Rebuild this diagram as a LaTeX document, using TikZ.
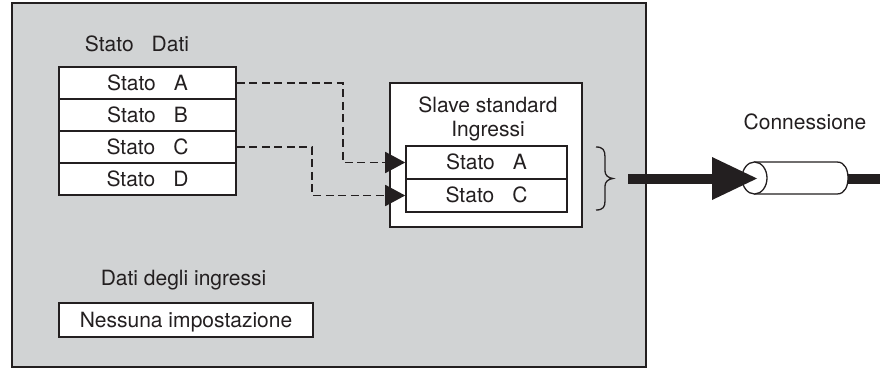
\documentclass[tikz,border=0pt]{standalone}
\usepackage{fontspec}
\setmainfont{TeX Gyre Heros}
\usetikzlibrary{arrows.meta}
\definecolor{panel}{RGB}{209,211,212}
\definecolor{ink}{RGB}{35,31,32}
\begin{document}
\begin{tikzpicture}[x=1pt,y=-1pt,
  every node/.style={font=\fontsize{21}{24}\selectfont, text=ink, inner sep=0pt},
  lbl/.style={anchor=base},
  cell/.style={draw=ink, fill=white, line width=1.6pt, minimum width=177pt, minimum height=32pt, text height=14.7pt, text depth=0pt},
  icell/.style={cell, minimum width=161pt, minimum height=33pt},
  conn/.style={draw=ink, line width=1.8pt, dash pattern=on 8pt off 4.5pt, -{Triangle[length=20pt,width=21pt]}},
  thick/.style={draw=ink, line width=10pt}]
\useasboundingbox (0,0) rectangle (880,369);
% panel
\draw[fill=panel, draw=ink, line width=2pt] (12,3) rectangle (646,367);
% data table
\node[lbl] (hdr) at (137,51.5) {Stato\hspace{18pt}Dati};
\node[cell] (rA) at (147.5,83) {Stato\hspace{18pt}A};
\node[cell] (rB) at (147.5,115) {Stato\hspace{18pt}B};
\node[cell] (rC) at (147.5,147) {Stato\hspace{18pt}C};
\node[cell] (rD) at (147.5,179) {Stato\hspace{18pt}D};
% slave box
\node[draw=ink, fill=white, line width=1.6pt, minimum width=192pt, minimum height=144pt] (slave) at (486,155) {};
\node[lbl, align=center] (sltxt) at (488,136.7) {Slave standard\\Ingressi};
\node[icell] (sA) at (486.5,162.5) {Stato\hspace{18pt}A};
\node[icell] (sC) at (486.5,195.5) {Stato\hspace{18pt}C};
% dashed connectors
\coordinate (bA) at (343,0);
\coordinate (bC) at (312,0);
\draw[conn] (rA.east) -- (rA.east -| bA) |- (sA.west);
\draw[conn] (rC.east) -- (rC.east -| bC) |- (sC.west);
% input data
\node[lbl] (dati) at (183.5,285) {Dati degli ingressi};
\node[draw=ink, fill=white, line width=1.6pt, minimum width=254pt, minimum height=34pt, text height=14.7pt, text depth=0pt] (ness) at (186,320) {Nessuna impostazione};
% brace
\draw[ink, line width=1.3pt] (596,147) .. controls (603,147) and (605,150) .. (605,157) -- (605,171) .. controls (605,175) and (608,178) .. (613,178.5) .. controls (608,179) and (605,182) .. (605,186) -- (605,201) .. controls (605,207) and (603,210) .. (596,210);
% connection
\node[lbl] (conn) at (805,129.3) {Connessione};
\coordinate (cR) at (848,178.5);
\coordinate (edge) at (880,178.5);
\draw[thick] (cR) -- (edge);
\draw[draw=ink, fill=white, line width=1.3pt] (754.5,162) -- (837,162) .. controls (845,162) and (848,170) .. (848,178) .. controls (848,186) and (845,194) .. (837,194) -- (754.5,194) -- cycle;
\draw[draw=ink, fill=white, line width=1.3pt] (754.5,178) ellipse [x radius=12.5, y radius=16];
\coordinate (tS) at (628,178.5);
\coordinate (tip) at (757,178.5);
\draw[thick] (tS) -- ([xshift=-42pt]tip);
\fill[ink] (tip) -- ([xshift=-45pt,yshift=21.5pt]tip) -- ([xshift=-45pt,yshift=-21.5pt]tip) -- cycle;
\end{tikzpicture}
\end{document}
